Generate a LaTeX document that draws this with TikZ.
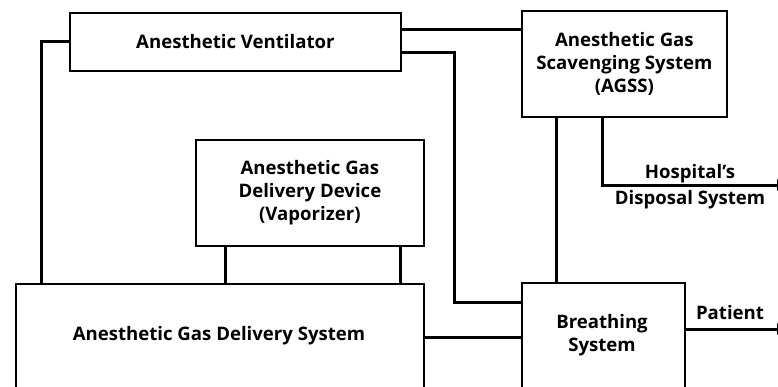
\documentclass[tikz,border=0pt]{standalone}
\usepackage{fontspec}
\setmainfont{Open Sans}
\usetikzlibrary{arrows.meta}
\begin{document}
\begin{tikzpicture}[x=1pt,y=-1pt,
  box/.style={draw,line width=1.8pt,fill=white},
  conn/.style={line width=3pt},
  lbl/.style={font=\bfseries\fontsize{18.6}{23}\selectfont,align=center},
  arr/.style={conn,-{Triangle[length=9pt,width=11pt]}}]
\useasboundingbox (0,0) rectangle (778,386);
\begin{scope}
\clip (0,0) rectangle (778,386);
% boxes
\node[box,minimum width=331pt,minimum height=58pt,anchor=north west] (vent) at (69,12) {};
\node[box,minimum width=205pt,minimum height=106pt,anchor=north west] (agss) at (521,10) {};
\node[box,minimum width=228pt,minimum height=106pt,anchor=north west] (vap) at (195,139) {};
\node[box,minimum width=408pt,minimum height=130pt,anchor=north west] (ags) at (15,283) {};
\node[box,minimum width=163pt,minimum height=130pt,anchor=north west] (bs) at (521,282) {};
% coordinates
\coordinate (c1) at (41,41);
\coordinate (c2) at (454,52);
\coordinate (c3) at (602,185);
\coordinate (hout) at (786,185);
\coordinate (pout) at (786,329);
% connectors
\draw[conn] (vent.west |- c1) -| (ags.north -| c1);
\draw[conn] (vent.east |- 0,29) -- (agss.west |- 0,29);
\draw[conn] (vent.east |- c2) -| (c2 |- 0,302) -- (bs.west |- 0,302);
\draw[conn] (vap.south -| 225,0) -- (ags.north -| 225,0);
\draw[conn] (vap.south -| 400,0) -- (ags.north -| 400,0);
\draw[conn] (ags.east |- 0,337) -- (bs.west |- 0,337);
\draw[conn] (agss.south -| 556,0) -- (bs.north -| 556,0);
\draw[arr] (agss.south -| c3) -- (c3) -- (hout);
\draw[arr] (bs.east |- pout) -- (pout);
\end{scope}
% labels
\node[lbl] at (vent.center) {Anesthetic Ventilator};
\node[lbl] at (agss.center) {Anesthetic Gas\\Scavenging System\\(AGSS)};
\node[lbl] at (vap.center) {Anesthetic Gas\\Delivery Device\\(Vaporizer)};
\node[lbl] (agstext) at (219,336) {Anesthetic Gas Delivery System};
\node[lbl] (bstext) at (602,335) {Breathing\\System};
\node[lbl,font=\bfseries\fontsize{18.6}{26}\selectfont] (htext) at (690,187) {Hospital's\\Disposal System};
\node[lbl] (ptext) at (730,313) {Patient};
\end{tikzpicture}
\end{document}
